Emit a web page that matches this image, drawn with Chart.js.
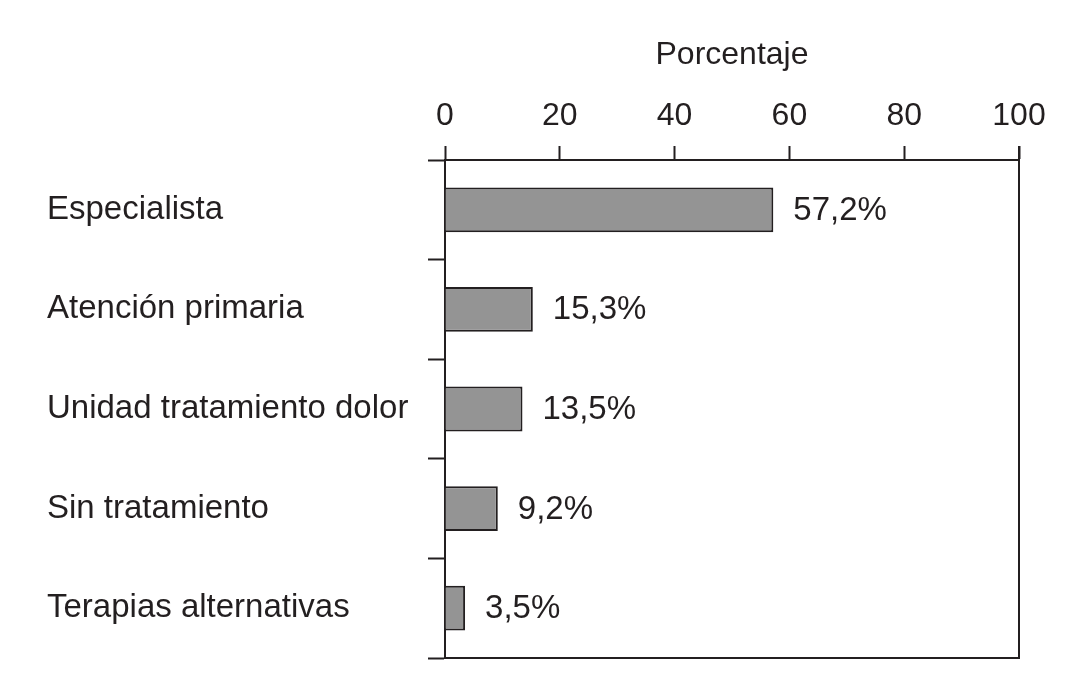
<!DOCTYPE html>
<html>
<head>
<meta charset="utf-8">
<script src="https://cdn.jsdelivr.net/npm/chart.js@4.4.1/dist/chart.umd.min.js"></script>
<style>
  html, body { margin: 0; padding: 0; background: #fff; }
  #wrap { width: 1066px; height: 687px; }
</style>
</head>
<body>
<div id="wrap"><canvas id="chart"></canvas></div>
<script>
// datos
const categorias = ['Especialista', 'Atención primaria', 'Unidad tratamiento dolor', 'Sin tratamiento', 'Terapias alternativas'];
const porcentajes = [57.2, 15.3, 13.5, 9.2, 3.5];
const ticksX = [0, 20, 40, 60, 80, 100];

const INK = '#231f20';
const FONT = "'Liberation Sans', Arial, Helvetica, sans-serif";

// etiquetas de valor junto a cada barra
const etiquetasPlugin = {
  id: 'etiquetas',
  afterDatasetsDraw(chart) {
    const ctx = chart.ctx;
    const meta = chart.getDatasetMeta(0);
    ctx.save();
    ctx.font = '33px ' + FONT;
    ctx.fillStyle = INK;
    ctx.textAlign = 'left';
    ctx.textBaseline = 'middle';
    meta.data.forEach((bar, i) => {
      const txt = porcentajes[i].toFixed(1).replace('.', ',') + '%';
      ctx.fillText(txt, bar.x + 20, bar.y + 1);
    });
    ctx.restore();
  }
};

// marco derecho e inferior
const marcoPlugin = {
  id: 'marco',
  afterDraw(chart) {
    const { ctx, chartArea } = chart;
    const tl = chart.scales.x.options.grid.tickLength;
    ctx.save();
    ctx.strokeStyle = INK;
    ctx.lineWidth = 2;
    ctx.beginPath();
    ctx.moveTo(chartArea.left, chartArea.bottom);
    ctx.lineTo(chartArea.right, chartArea.bottom);
    ctx.moveTo(chartArea.right, chartArea.top - tl);
    ctx.lineTo(chartArea.right, chartArea.bottom + 1);
    ctx.stroke();
    ctx.restore();
  }
};

new Chart(document.getElementById('chart'), {
  type: 'bar',
  data: {
    labels: categorias,
    datasets: [{
      data: porcentajes,
      backgroundColor: '#949494',
      borderColor: INK,
      borderWidth: 2,
      borderSkipped: 'start',
      barPercentage: 0.45,
      categoryPercentage: 1
    }]
  },
  options: {
    indexAxis: 'y',
    responsive: true,
    maintainAspectRatio: false,
    animation: false,
    layout: { padding: { left: 47, right: 47, top: 36, bottom: 29 } },
    plugins: {
      legend: { display: false },
      tooltip: { enabled: false }
    },
    scales: {
      x: {
        position: 'top',
        min: 0,
        max: 100,
        afterBuildTicks(scale) {
          scale.ticks = ticksX.map(v => ({ value: v }));
        },
        afterFit(scale) { scale.height = 124; },
        grid: {
          drawOnChartArea: false,
          drawTicks: true,
          tickLength: 14,
          tickWidth: 2,
          tickColor: INK
        },
        border: { display: true, color: INK, width: 2 },
        ticks: {
          color: INK,
          padding: 11,
          maxRotation: 0,
          font: { family: FONT, size: 32 }
        },
        title: {
          display: true,
          text: 'Porcentaje',
          color: INK,
          padding: 0,
          font: { family: FONT, size: 32 }
        }
      },
      y: {
        position: 'left',
        afterFit(scale) { scale.width = 398; },
        grid: {
          offset: true,
          drawOnChartArea: false,
          drawTicks: true,
          tickLength: 17,
          tickWidth: 2,
          tickColor: INK
        },
        border: { display: true, color: INK, width: 2 },
        ticks: {
          color: INK,
          crossAlign: 'far',
          font: { family: FONT, size: 33 }
        }
      }
    }
  },
  plugins: [etiquetasPlugin, marcoPlugin]
});
</script>
</body>
</html>
